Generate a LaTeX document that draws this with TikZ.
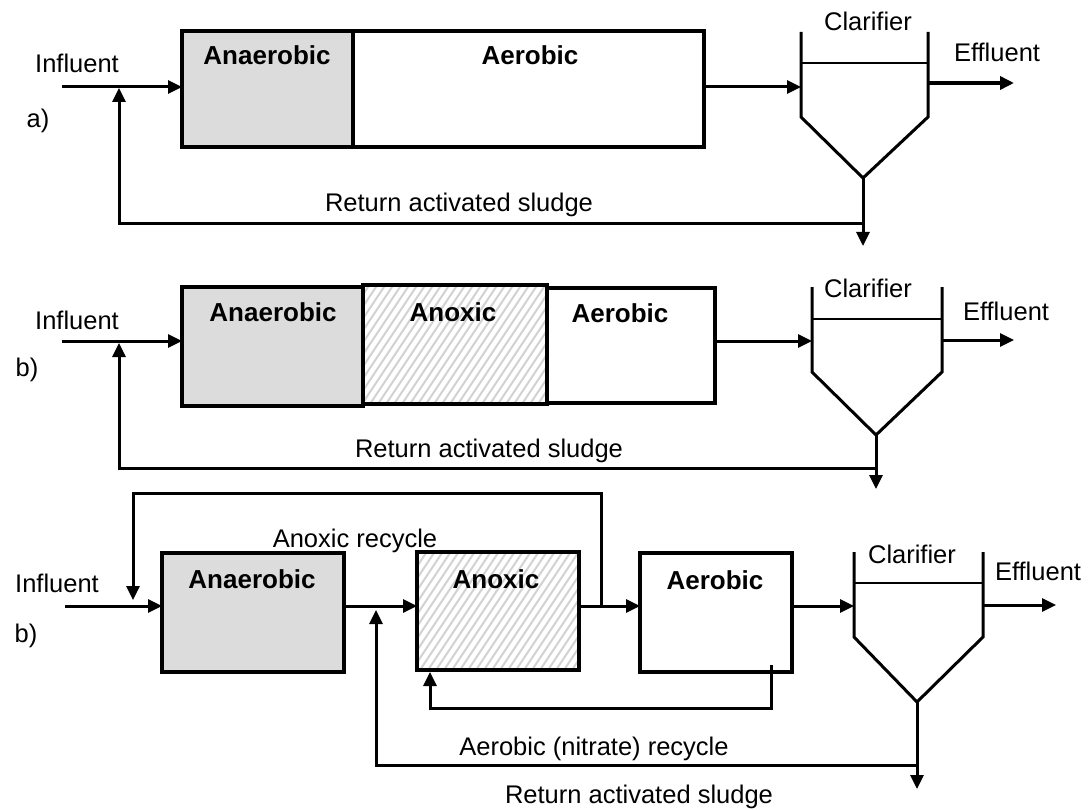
\documentclass[tikz,border=0pt]{standalone}
\usepackage{fontspec}
\setmainfont{Liberation Sans}
\usetikzlibrary{arrows.meta}
\definecolor{anagray}{HTML}{DCDCDC}
\definecolor{hatchgray}{HTML}{D2D2D2}
\tikzset{
  tank/.style={draw=black, line width=4pt, inner sep=0pt, outer sep=0pt, anchor=north west},
  flow/.style={draw=black, line width=3pt},
  arr/.style={-{Triangle[length=14pt,width=13pt]}},
  wall/.style={draw=black, line width=3pt, line join=miter},
  crossbar/.style={draw=black, line width=2.5pt},
  hatchline/.style={draw=hatchgray, line width=2pt},
  lbl/.style={anchor=base, inner sep=0pt, font=\fontsize{25.5}{30}\selectfont},
  blbl/.style={anchor=base, inner sep=0pt, font=\bfseries\fontsize{26}{30}\selectfont},
}
\begin{document}
\begin{tikzpicture}[x=1pt,y=-1pt]
\useasboundingbox (0,0) rectangle (1089,810);
\fill[white] (0,0) rectangle (1089,810);

%% ================= a) =================
\node[tank, fill=anagray, minimum width=171pt, minimum height=116pt] (aAna) at (182,31) {};
\node[tank, fill=white, minimum width=351pt, minimum height=116pt] (aAer) at (353,31) {};
\node[blbl] (aAnaL) at (267,65) {Anaerobic};
\node[blbl] (aAerL) at (530,65) {Aerobic};
\node[lbl] (aInfL) at (77,73) {Influent};
\node[lbl] (aTag) at (38,128) {a)};
\node[lbl] (aClarL) at (868,31) {Clarifier};
\node[lbl] (aEffL) at (997,62) {Effluent};
\node[lbl] (aRasL) at (459,212) {Return activated sludge};
% clarifier
\coordinate (aCtl) at (801,32); \coordinate (aCbl) at (801,117);
\coordinate (aCtr) at (928,32); \coordinate (aCbr) at (928,117);
\coordinate (aCv) at (863,178);
\draw[wall] (aCtl) -- (aCbl) -- (aCv) -- (aCbr) -- (aCtr);
\draw[crossbar] (801,63) -- (928,63);
\coordinate (aCin) at (801,87); \coordinate (aCout) at (928,83);
% connectors
\coordinate (aInS) at (62,87);
\draw[flow,arr] (aInS) -- (aInS -| aAna.west);
\draw[flow,arr] (aAer.east |- aCin) -- (aCin);
\coordinate (aEff) at (1014,83);
\draw[draw=black,line width=4pt,arr] (aCout) -- (aEff);
\coordinate (aRasEnd) at (863,246);
\draw[flow,arr] (aCv) -- (aRasEnd);
\coordinate (aRasY) at (863,224); \coordinate (aRetTip) at (119,88);
\draw[flow,arr] (aRasY) -| (aRetTip);

%% ================= b) =================
\node[tank, fill=anagray, minimum width=181pt, minimum height=119pt] (bAna) at (182,287) {};
\begin{scope}
  \clip (363,285) rectangle (547,404);
  \foreach \i in {230,238,...,560} \draw[hatchline] (\i,410) -- ++(90,-135);
\end{scope}
\node[tank, minimum width=184pt, minimum height=119pt] (bAno) at (363,285) {};
\node[tank, fill=white, minimum width=168pt, minimum height=115pt] (bAer) at (547,288) {};
\node[blbl] (bAnaL) at (273,321) {Anaerobic};
\node[blbl] (bAnoL) at (453,321) {Anoxic};
\node[blbl] (bAerL) at (620,322) {Aerobic};
\node[lbl] (bInfL) at (77,329) {Influent};
\node[lbl] (bTag) at (27,376) {b)};
\node[lbl] (bClarL) at (868,298) {Clarifier};
\node[lbl] (bEffL) at (1006,320) {Effluent};
\node[lbl] (bRasL) at (489,457) {Return activated sludge};
% clarifier
\coordinate (bCtl) at (812,287); \coordinate (bCbl) at (812,372);
\coordinate (bCtr) at (942,287); \coordinate (bCbr) at (942,372);
\coordinate (bCv) at (876,435);
\draw[wall] (bCtl) -- (bCbl) -- (bCv) -- (bCbr) -- (bCtr);
\draw[crossbar] (812,319) -- (942,319);
\coordinate (bCin) at (812,341); \coordinate (bCout) at (942,340);
% connectors
\coordinate (bInS) at (62,341);
\draw[flow,arr] (bInS) -- (bInS -| bAna.west);
\draw[flow,arr] (bAer.east |- bCin) -- (bCin);
\coordinate (bEff) at (1014,340);
\draw[flow,arr] (bCout) -- (bEff);
\coordinate (bRasEnd) at (876,489);
\draw[flow,arr] (bCv) -- (bRasEnd);
\coordinate (bRasY) at (876,468); \coordinate (bRetTip) at (119,343);
\draw[flow,arr] (bRasY) -| (bRetTip);

%% ================= c) =================
\node[tank, fill=anagray, minimum width=182pt, minimum height=119pt] (cAna) at (162,553) {};
\begin{scope}
  \clip (417,552) rectangle (579,670);
  \foreach \i in {280,288,...,590} \draw[hatchline] (\i,676) -- ++(90,-135);
\end{scope}
\node[tank, minimum width=162pt, minimum height=118pt] (cAno) at (417,552) {};
\node[tank, fill=white, minimum width=152pt, minimum height=119pt] (cAer) at (640,553) {};
\node[blbl] (cAnaL) at (252,588) {Anaerobic};
\node[blbl] (cAnoL) at (496,588) {Anoxic};
\node[blbl] (cAerL) at (715,589) {Aerobic};
\node[lbl] (cInfL) at (57,592) {Influent};
\node[lbl] (cTag) at (26,642) {b)};
\node[lbl] (cAnoRecL) at (355,547) {Anoxic recycle};
\node[lbl] (cNitL) at (594,755) {Aerobic (nitrate) recycle};
\node[lbl] (cRasL) at (639,803) {Return activated sludge};
\node[lbl] (cClarL) at (912,563) {Clarifier};
\node[lbl] (cEffL) at (1038,580) {Effluent};
% clarifier
\coordinate (cCtl) at (854,552); \coordinate (cCbl) at (854,637);
\coordinate (cCtr) at (983,552); \coordinate (cCbr) at (983,637);
\coordinate (cCv) at (917,702);
\draw[wall] (cCtl) -- (cCbl) -- (cCv) -- (cCbr) -- (cCtr);
\draw[crossbar] (854,583) -- (983,583);
\coordinate (cCin) at (854,606); \coordinate (cCout) at (983,605);
% connectors
\coordinate (cInS) at (65,606);
\draw[flow,arr] (cInS) -- (cInS -| cAna.west);
\draw[flow,arr] (cAna.east |- cInS) -- (cAno.west |- cInS);
\draw[flow,arr] (cAno.east |- cInS) -- (cAer.west |- cInS);
\draw[flow,arr] (cAer.east |- cInS) -- (cCin);
\coordinate (cEff) at (1056,605);
\draw[flow,arr] (cCout) -- (cEff);
% anoxic recycle
\coordinate (cArS) at (601,606); \coordinate (cArTip) at (133,600);
\draw[flow,arr] (cArS) -- (601,493) -| (cArTip);
% nitrate recycle
\coordinate (cNrS) at (771,665); \coordinate (cNrTip) at (430,672);
\draw[flow,arr] (cNrS) -- (771,708) -| (cNrTip);
% RAS
\coordinate (cRasEnd) at (917,789);
\draw[flow,arr] (cCv) -- (cRasEnd);
\coordinate (cRasY) at (917,765); \coordinate (cRetTip) at (376,610);
\draw[flow,arr] (cRasY) -| (cRetTip);
\end{tikzpicture}
\end{document}
